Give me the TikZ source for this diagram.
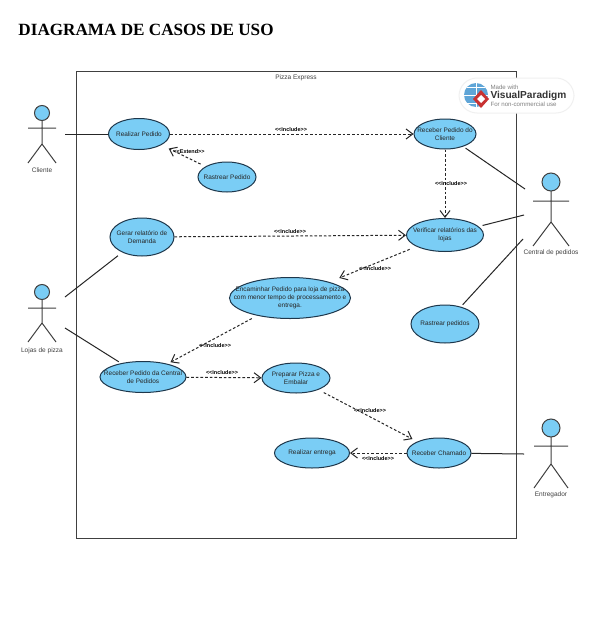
\documentclass[tikz,border=0pt]{standalone}
\usepackage{fontspec}
\setmainfont{Liberation Sans}
\newfontfamily\titlefont{Liberation Serif}
\usetikzlibrary{shapes.geometric,arrows.meta}

\definecolor{ucfill}{RGB}{122,205,245}
\definecolor{ucline}{RGB}{30,55,75}
\definecolor{vpblue}{RGB}{95,165,215}
\definecolor{vpred}{RGB}{200,50,50}

\tikzset{every picture/.style={line width=0.75pt},
	usecase/.style 2 args={shape=ellipse, draw=ucline, fill=ucfill, inner sep=0pt, minimum width=#1*0.75pt, minimum height=#2*0.75pt},
	uctext/.style={align=center, inner sep=0pt, text=black!85, font=\fontsize{4.85}{6.2}\selectfont},
	actorline/.style={draw=black!75},
	assoc/.style={draw=black!85},
	depend/.style={draw=black!85, dashed, dash pattern=on 2pt off 1.5pt, -{Straight Barb[length=5pt,width=7.5pt]}},
	deplabel/.style={inner sep=0pt, font=\bfseries\fontsize{4.1}{5}\selectfont},
	actorlabel/.style={inner sep=0pt, text=black!75, font=\fontsize{4.9}{6}\selectfont}}

\begin{document}
\begin{tikzpicture}[x=0.75pt,y=0.75pt,yscale=-1,xscale=1]
	\useasboundingbox (0,0) rectangle (600,628);
	\fill [white] (0,0) rectangle (600,628);

	\node [anchor=west, inner sep=0pt, font=\titlefont\bfseries\fontsize{12.85}{14}\selectfont] (title) at (18,29.5) {DIAGRAMA DE CASOS DE USO};

	% system box
	\draw [draw=black!75] (76,71) rectangle (516,538);
	\node [actorlabel] (system) at (296,78) {Pizza Express};

	% logo
	\draw [draw=black!6, fill=white, rounded corners=13.5] (459,78) rectangle (574,113);
	\fill [vpblue] (476,95) circle [radius=12];
	\draw [white, line width=0.4pt] (464,95) -- (488,95) (476,83) -- (476,107) (467,87) -- (485,87) (467,103) -- (485,103);
	\fill [vpred] (481,90) -- (489,99) -- (481,108) -- (473,99) -- cycle;
	\fill [white] (481,95) -- (485,99) -- (481,103) -- (477,99) -- cycle;
	\node [anchor=west, inner sep=0pt, text=black!50, font=\fontsize{4.6}{5}\selectfont] (vpmade) at (490,87) {Made with};
	\node [anchor=west, inner sep=0pt, text=black!80, font=\bfseries\fontsize{7.6}{9}\selectfont] (vpname) at (490,95.5) {VisualParadigm};
	\node [anchor=west, inner sep=0pt, text=black!50, font=\fontsize{4.6}{5}\selectfont] (vpuse) at (490,104) {For non-commercial use};

	% actors
	\draw [actorline, fill=ucfill] (42,113) circle [radius=7.5];
	\draw [actorline] (42,120.5) -- (42,144) (28,128) -- (56,128) (28,163) -- (42,144) -- (56,163);
	\node [actorlabel] (cliente) at (42,170) {Cliente};

	\draw [actorline, fill=ucfill] (42,292) circle [radius=7.5];
	\draw [actorline] (42,299.5) -- (42,323) (28,308) -- (56,308) (28,342) -- (42,323) -- (56,342);
	\node [actorlabel] (lojas) at (42,351) {Lojas de pizza};

	\draw [actorline, fill=ucfill] (551,182) circle [radius=9];
	\draw [actorline] (551,191) -- (551,222) (533,201) -- (569,201) (533,246) -- (551,222) -- (569,246);
	\node [actorlabel] (central) at (551,253) {Central de pedidos};

	\draw [actorline, fill=ucfill] (551,428) circle [radius=9];
	\draw [actorline] (551,437) -- (551,464) (534,446) -- (568,446) (534,488) -- (551,464) -- (568,488);
	\node [actorlabel] (entregador) at (551,495) {Entregador};

	% use cases
	\node [usecase={61}{31}] (realizar) at (139,134) {};
	\node [uctext] (realizartxt) at (realizar) {Realizar Pedido};
	\node [usecase={58}{30}] (rastrear) at (227,177) {};
	\node [uctext] (rastreartxt) at (rastrear) {Rastrear Pedido};
	\node [usecase={62}{30}] (receber) at (445,134) {};
	\node [uctext] (recebertxt) at (receber) {Receber Pedido do\\Cliente};
	\node [usecase={77}{33}] (verificar) at (445,235) {};
	\node [uctext] (verificartxt) at (verificar) {Verificar relatórios das\\lojas};
	\node [usecase={64}{38}] (gerar) at (142,237) {};
	\node [uctext] (gerartxt) at (gerar) {Gerar relatório de\\Demanda};
	\node [usecase={121}{41}] (encaminhar) at (290,298) {};
	\node [uctext] (encaminhartxt) at (encaminhar) {Encaminhar Pedido para loja de pizza\\com menor tempo de processamento e\\entrega.};
	\node [usecase={68}{38}] (rastreardois) at (445,324) {};
	\node [uctext] (rastreardoistxt) at (rastreardois) {Rastrear pedidos};
	\node [usecase={86}{31}] (recebercentral) at (143,377) {};
	\node [uctext] (recebercentraltxt) at (recebercentral) {Receber Pedido da Central\\de Pedidos};
	\node [usecase={68}{30}] (preparar) at (296,378) {};
	\node [uctext] (preparartxt) at (preparar) {Preparar Pizza e\\Embalar};
	\node [usecase={64}{30}] (chamado) at (439,453) {};
	\node [uctext] (chamadotxt) at (chamado) {Receber Chamado};
	\node [usecase={75}{30}] (entrega) at (312,453) {};
	\node [uctext] (entregatxt) at (entrega) {Realizar entrega};

	% free ends of the associations
	\coordinate (clienteend) at (65,134);
	\coordinate (lojasup) at (65,297);
	\coordinate (lojasdown) at (65,328);
	\coordinate (centralup) at (525,189);
	\coordinate (centralmid) at (524,215);
	\coordinate (centraldown) at (523,239);
	\coordinate (entregadorend) at (524,454);

	\draw [assoc] (clienteend) -- (realizar);
	\draw [assoc, shorten >=4pt] (lojasup) -- (gerar);
	\draw [assoc, shorten >=2pt] (lojasdown) -- (recebercentral);
	\draw [assoc, shorten <=2pt] (receber) -- (centralup);
	\draw [assoc, shorten <=3pt] (verificar) -- (centralmid);
	\draw [assoc, shorten <=2pt] (rastreardois) -- (centraldown);
	\draw [assoc] (chamado) -- (entregadorend);

	\draw [depend] (realizar) -- (receber);
	\draw [depend, shorten <=4pt, shorten >=6pt] (rastrear) -- (realizar);
	\draw [depend] (receber) -- (verificar);
	\draw [depend] (gerar) -- (verificar);
	\draw [depend, shorten <=5.5pt, shorten >=8pt] (verificar) -- (encaminhar);
	\draw [depend, shorten <=4.5pt, shorten >=2.5pt] (encaminhar) -- (recebercentral);
	\draw [depend] (recebercentral) -- (preparar);
	\draw [depend, shorten <=4.5pt, shorten >=4pt] (preparar) -- (chamado);
	\draw [depend] (chamado) -- (entrega);

	\node [deplabel] (inclum) at (291,129.5) {<{}<Include>{}>};
	\node [deplabel] (extend) at (189,152) {<{}<Extend>{}>};
	\node [deplabel] (incldois) at (451,184) {<{}<Include>{}>};
	\node [deplabel] (incltres) at (290,231.5) {<{}<Include>{}>};
	\node [deplabel] (inclquatro) at (375,269) {<{}<Include>{}>};
	\node [deplabel] (inclcinco) at (215,346) {<{}<Include>{}>};
	\node [deplabel] (inclseis) at (222,373) {<{}<Include>{}>};
	\node [deplabel] (inclsete) at (370,411) {<{}<Include>{}>};
	\node [deplabel] (incloito) at (378,459) {<{}<Include>{}>};
\end{tikzpicture}
\end{document}
